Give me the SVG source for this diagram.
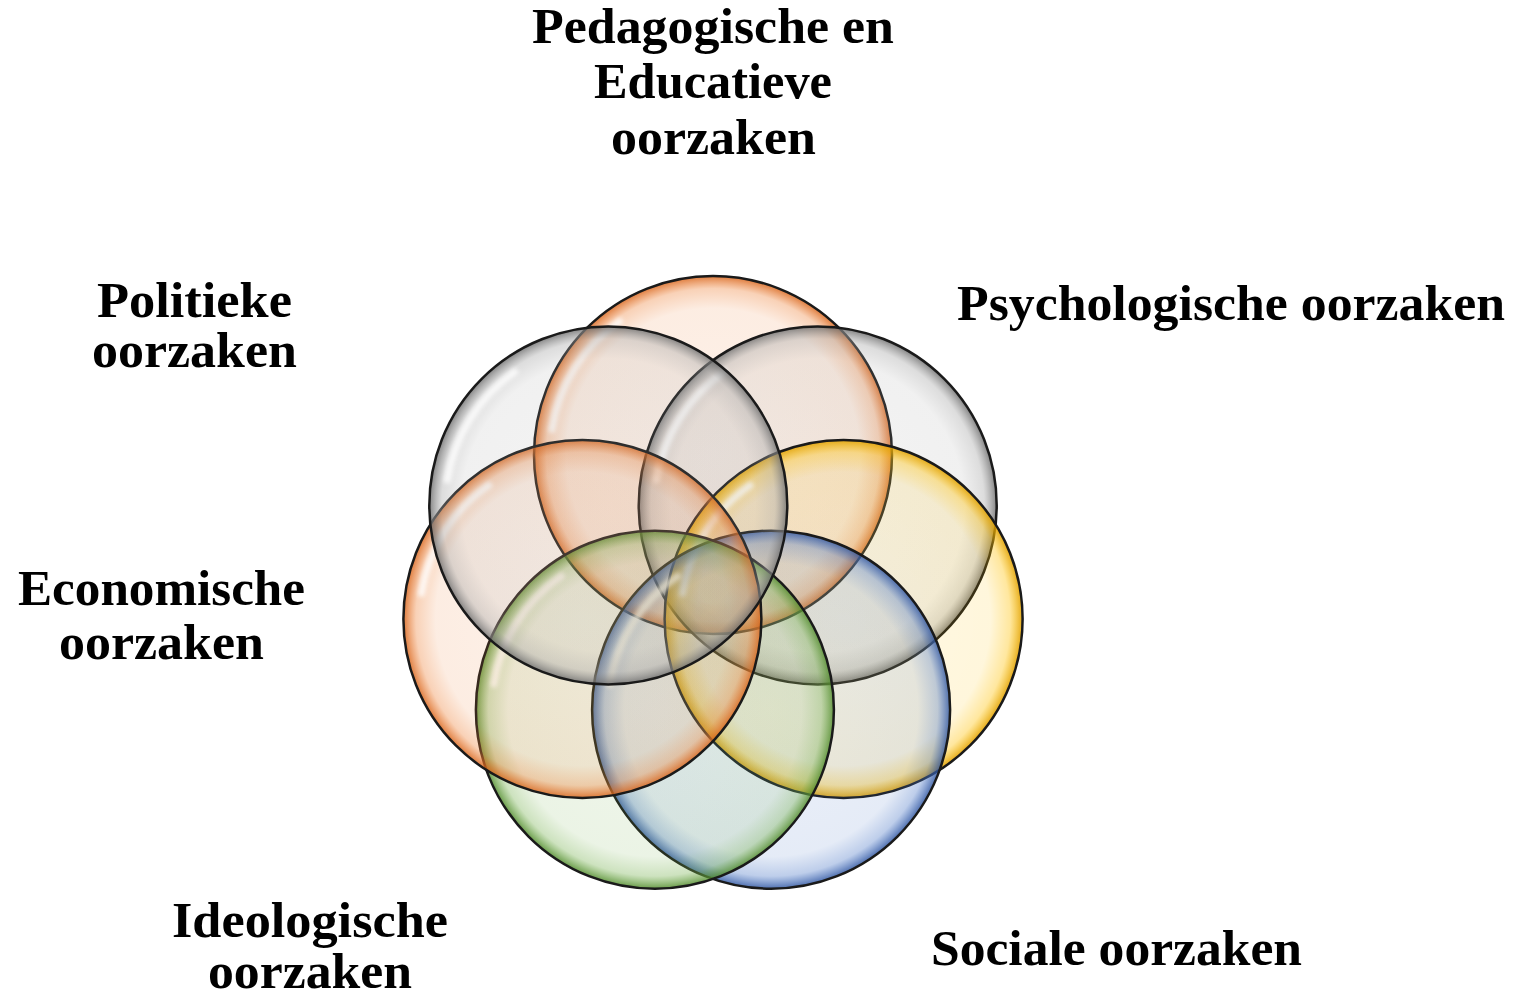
<svg xmlns="http://www.w3.org/2000/svg" width="1514" height="995" viewBox="0 0 1514 995">
<style>
.lbl{font-family:"Liberation Serif","Times New Roman",serif;font-weight:bold;font-size:50px;fill:#000}
.ring{stroke:#1a1a1a;stroke-width:2.5}
.hl{fill:none;stroke:#fff;stroke-width:7;stroke-linecap:round;opacity:0.8}
</style>
<defs>
<filter id="blur" x="-20%" y="-20%" width="140%" height="140%"><feGaussianBlur stdDeviation="2"/></filter>
<radialGradient id="gOr" cx="0" cy="0" r="179" gradientUnits="userSpaceOnUse">
<stop offset="0" stop-color="#ED7D31" stop-opacity="0.10"/>
<stop offset="0.82" stop-color="#ED7D31" stop-opacity="0.14"/>
<stop offset="0.93" stop-color="#ED7D31" stop-opacity="0.35"/>
<stop offset="1" stop-color="#D8641A" stop-opacity="0.85"/>
</radialGradient>
<radialGradient id="gGr" cx="0" cy="0" r="179" gradientUnits="userSpaceOnUse">
<stop offset="0" stop-color="#A5A5A5" stop-opacity="0.12"/>
<stop offset="0.82" stop-color="#A5A5A5" stop-opacity="0.16"/>
<stop offset="0.93" stop-color="#A5A5A5" stop-opacity="0.38"/>
<stop offset="1" stop-color="#6E6E6E" stop-opacity="0.85"/>
</radialGradient>
<radialGradient id="gYe" cx="0" cy="0" r="179" gradientUnits="userSpaceOnUse">
<stop offset="0" stop-color="#FFC000" stop-opacity="0.10"/>
<stop offset="0.82" stop-color="#FFC000" stop-opacity="0.14"/>
<stop offset="0.93" stop-color="#FFC000" stop-opacity="0.38"/>
<stop offset="1" stop-color="#E0A000" stop-opacity="0.9"/>
</radialGradient>
<radialGradient id="gGn" cx="0" cy="0" r="179" gradientUnits="userSpaceOnUse">
<stop offset="0" stop-color="#70AD47" stop-opacity="0.10"/>
<stop offset="0.82" stop-color="#70AD47" stop-opacity="0.14"/>
<stop offset="0.93" stop-color="#70AD47" stop-opacity="0.35"/>
<stop offset="1" stop-color="#4F8A2A" stop-opacity="0.85"/>
</radialGradient>
<radialGradient id="gBl" cx="0" cy="0" r="179" gradientUnits="userSpaceOnUse">
<stop offset="0" stop-color="#4472C4" stop-opacity="0.10"/>
<stop offset="0.82" stop-color="#4472C4" stop-opacity="0.14"/>
<stop offset="0.93" stop-color="#4472C4" stop-opacity="0.35"/>
<stop offset="1" stop-color="#2F55A0" stop-opacity="0.85"/>
</radialGradient>
<path id="arc" class="hl" d="M -161 -25.5 A 163 163 0 0 1 -93.5 -133.5" filter="url(#blur)"/>
</defs>
<rect width="1514" height="995" fill="#fff"/>

<g id="circle-top-orange" transform="translate(713,455)">
<circle r="179" fill="url(#gOr)" class="ring"/><use href="#arc"/>
</g>
<g id="circle-gray-right" transform="translate(817.7,505.4)">
<circle r="179" fill="url(#gGr)" class="ring"/><use href="#arc"/>
</g>
<g id="circle-yellow" transform="translate(843.6,618.9)">
<circle r="179" fill="url(#gYe)" class="ring"/><use href="#arc"/>
</g>
<g id="circle-blue" transform="translate(771.1,709.7)">
<circle r="179" fill="url(#gBl)" class="ring"/><use href="#arc"/>
</g>
<g id="circle-green" transform="translate(654.9,709.7)">
<circle r="179" fill="url(#gGn)" class="ring"/><use href="#arc"/>
</g>
<g id="circle-orange-left" transform="translate(582.4,618.9)">
<circle r="179" fill="url(#gOr)" class="ring"/><use href="#arc"/>
</g>
<g id="circle-gray-left" transform="translate(608.3,505.4)">
<circle r="179" fill="url(#gGr)" class="ring"/><use href="#arc"/>
</g>

<g id="labels">
<g id="label-pedagogische">
<text class="lbl" x="532" y="43" textLength="362" lengthAdjust="spacingAndGlyphs">Pedagogische en</text>
<text class="lbl" x="594" y="98" textLength="238" lengthAdjust="spacingAndGlyphs">Educatieve</text>
<text class="lbl" x="611" y="154" textLength="205" lengthAdjust="spacingAndGlyphs">oorzaken</text>
</g>
<g id="label-politieke">
<text class="lbl" x="97" y="317" textLength="195" lengthAdjust="spacingAndGlyphs">Politieke</text>
<text class="lbl" x="92" y="367" textLength="205" lengthAdjust="spacingAndGlyphs">oorzaken</text>
</g>
<g id="label-psychologische">
<text class="lbl" x="957" y="320" textLength="548" lengthAdjust="spacingAndGlyphs">Psychologische oorzaken</text>
</g>
<g id="label-economische">
<text class="lbl" x="18" y="605" textLength="287" lengthAdjust="spacingAndGlyphs">Economische</text>
<text class="lbl" x="59" y="659" textLength="205" lengthAdjust="spacingAndGlyphs">oorzaken</text>
</g>
<g id="label-ideologische">
<text class="lbl" x="172" y="937" textLength="276" lengthAdjust="spacingAndGlyphs">Ideologische</text>
<text class="lbl" x="208" y="988" textLength="204" lengthAdjust="spacingAndGlyphs">oorzaken</text>
</g>
<g id="label-sociale">
<text class="lbl" x="931" y="965" textLength="371" lengthAdjust="spacingAndGlyphs">Sociale oorzaken</text>
</g>
</g>
</svg>
